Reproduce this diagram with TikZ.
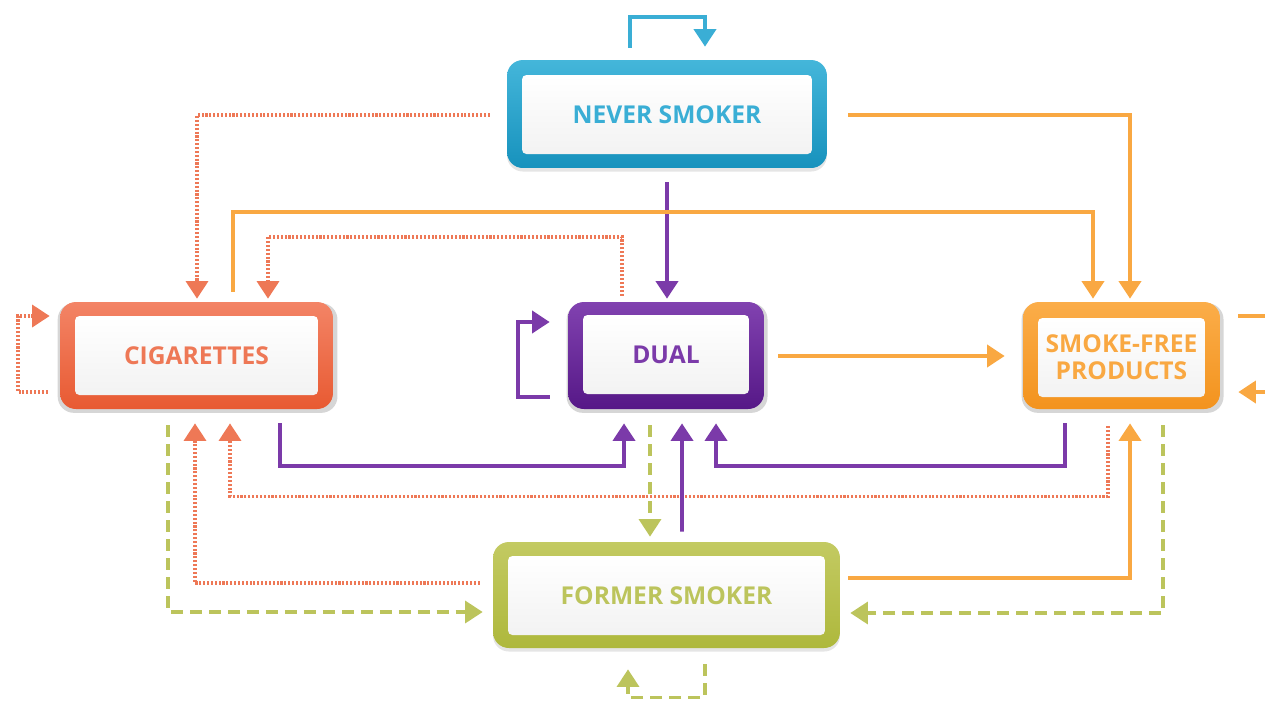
\documentclass[tikz,border=0pt]{standalone}
\usepackage{fontspec}
\setsansfont{Open Sans}
\usetikzlibrary{calc}
\usetikzlibrary{arrows.meta}
\usetikzlibrary{shadows}

\definecolor{neverA}{HTML}{44B6DA}
\definecolor{neverB}{HTML}{1792BD}
\definecolor{neverT}{HTML}{3AAED5}
\definecolor{cigA}{HTML}{F38466}
\definecolor{cigB}{HTML}{E85A32}
\definecolor{cigT}{HTML}{EE7856}
\definecolor{dualA}{HTML}{8142B0}
\definecolor{dualB}{HTML}{561887}
\definecolor{dualT}{HTML}{7B3AA9}
\definecolor{sfpA}{HTML}{FBAD49}
\definecolor{sfpB}{HTML}{F3931E}
\definecolor{sfpT}{HTML}{F9A842}
\definecolor{formerA}{HTML}{C3CA62}
\definecolor{formerB}{HTML}{AEB83C}
\definecolor{formerT}{HTML}{BCC45C}

\tikzset{
	stage/.style 2 args={rounded corners=9pt, top color=#1, bottom color=#2, inner sep=0pt, minimum height=2.14cm},
	face/.style={rounded corners=2.5pt, top color=white, bottom color=black!5, inner sep=0pt, align=center, minimum height=1.58cm, font=\sffamily\bfseries\fontsize{14}{15.5}\selectfont},
	halo/.style={drop shadow={shadow xshift=0.6pt, shadow yshift=-1.4pt, shadow scale=1.025, fill=black!16, opacity=1}},
	soft/.style={drop shadow={shadow xshift=0pt, shadow yshift=-2pt, fill=black!10, opacity=1}},
	tip/.style={-{Triangle[width=12.5pt,length=10pt]}},
	solidln/.style={tip, line width=2.2pt, color=#1},
	dotln/.style={tip, line width=2.1pt, color=cigT, dash pattern=on 1.2pt off 1pt},
	dashln/.style={tip, line width=2pt, color=formerT, dash pattern=on 6.8pt off 4pt},
}

\begin{document}
\begin{tikzpicture}[x=0.02cm, y=-0.02cm]

	\useasboundingbox (0,0) rectangle (1265,701);
	\clip (0,0) rectangle (1265,701);

	%Stages
	\node[stage={neverA}{neverB}, soft, minimum width=6.4cm, minimum height=2.16cm] (never) at (667,114) {};
	\node[face, text=neverT, minimum width=5.8cm] (never-f) at ($(never)+(0,0.5)$) {NEVER SMOKER};

	\node[stage={cigA}{cigB}, halo, minimum width=5.46cm] (cig) at (196.5,355.5) {};
	\node[face, text=cigT, minimum width=4.86cm] (cig-f) at ($(cig)+(0,0)$) {CIGARETTES};

	\node[stage={dualA}{dualB}, halo, minimum width=3.92cm] (dual) at (666,355.5) {};
	\node[face, text=dualT, minimum width=3.32cm] (dual-f) at ($(dual)+(0,-1)$) {DUAL};

	\node[stage={sfpA}{sfpB}, halo, minimum width=3.94cm] (sfp) at (1121.5,355.5) {};
	\node[face, text=sfpT, minimum width=3.34cm] (sfp-f) at ($(sfp)+(0,2)$) {SMOKE-FREE\\PRODUCTS};

	\node[stage={formerA}{formerB}, soft, minimum width=6.94cm, minimum height=2.12cm] (former) at (666.5,595) {};
	\node[face, text=formerT, minimum width=6.34cm] (former-f) at ($(former)+(0,0.5)$) {FORMER SMOKER};

	%Self loops
	\draw[solidln=neverT] ($(never.north)+(-37,-12)$) -- ++(0,-31) -| ($(never.north)+(38,-13)$);
	\draw[dotln] ($(cig.west)+(-12,36.5)$) -- ++(-30,0) |- ($(cig.west)+(-10,-39.5)$);
	\draw[solidln=dualT] ($(dual.west)+(-18,41.5)$) -- ++(-32,0) |- ($(dual.west)+(-18,-33.5)$);
	\draw[solidln=sfpT] ($(sfp.east)+(18,-39.5)$) -- ++(40,0) |- ($(sfp.east)+(18,36.5)$);
	\draw[dashln] ($(former.south)+(38.5,16)$) -- ++(0,33) -| ($(former.south)+(-38.5,21)$);

	%From never smoker
	\draw[dotln] ($(never.west)+(-17,1)$) -| ($(cig.north)+(0.5,-3)$);
	\draw[solidln=sfpT] ($(never.east)+(21,1)$) -| ($(sfp.north)+(8.5,-3)$);
	\draw[solidln=dualT] ($(never.south)+(0,14)$) -- ($(dual.north)+(1,-3)$);

	%Upper runs
	\draw[solidln=sfpT] ($(cig.north)+(36.5,-10)$) -- ++(0,-80) -| ($(sfp.north)+(-28.5,-3)$);
	\draw[dotln] ($(dual.north)+(-44,-6)$) -- ++(0,-59) -| ($(cig.north)+(71.5,-3)$);
	\draw[solidln=sfpT] ($(dual.east)+(14,0.5)$) -- ($(sfp.west)+(-18,0.5)$);

	%Lower runs
	\draw[solidln=dualT] ($(cig.south)+(83.5,14)$) -- ++(0,43) -| ($(dual.south)+(-42,14)$);
	\draw[solidln=dualT] ($(sfp.south)+(-56.5,14)$) -- ++(0,43) -| ($(dual.south)+(50,14)$);
	\draw[dotln] ($(sfp.south)+(-13.5,17)$) -- ++(0,70) -| ($(cig.south)+(33.5,14)$);
	\draw[dotln] ($(former.west)+(-13,-12)$) -| ($(cig.south)+(-1.5,14)$);
	\draw[dashln] ($(cig.south)+(-28.5,16)$) |- ($(former.west)+(-10,17)$);
	\draw[dashln] ($(dual.south)+(-16,16)$) -- ($(former.north)+(-16.5,-5)$);
	\draw[solidln=dualT] ($(former.north)+(15.5,-10)$) -- ($(dual.south)+(16,14)$);
	\draw[solidln=sfpT] ($(former.east)+(8,-17)$) -| ($(sfp.south)+(8.5,14)$);
	\draw[dashln] ($(sfp.south)+(41.5,16)$) |- ($(former.east)+(10,18)$);

\end{tikzpicture}
\end{document}
